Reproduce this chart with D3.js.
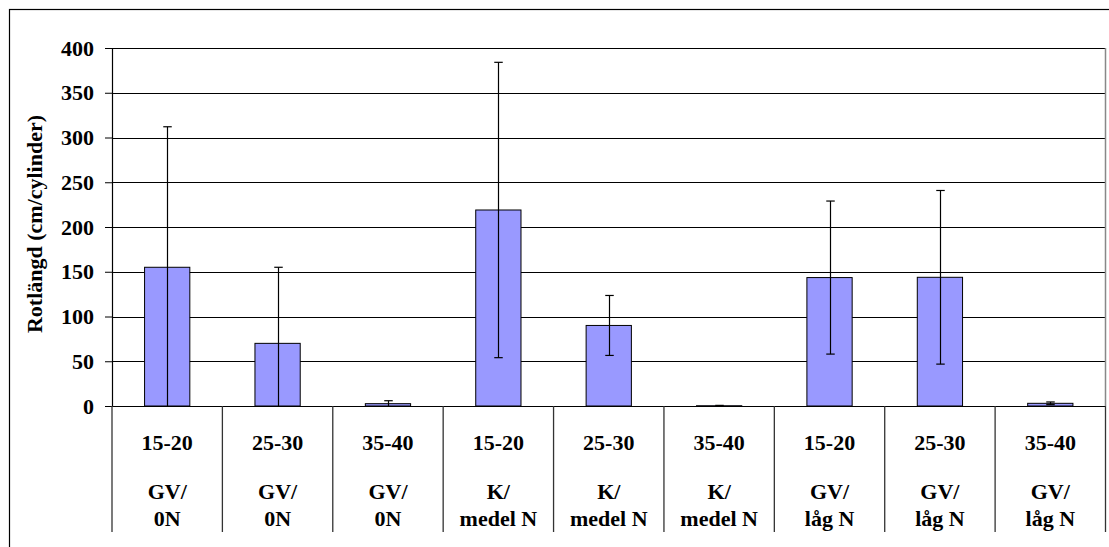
<!DOCTYPE html>
<html>
<head>
<meta charset="utf-8">
<script src="https://cdn.jsdelivr.net/npm/d3@7"></script>
<style>
  html, body { margin: 0; padding: 0; background: #fff; }
  svg { display: block; }
</style>
</head>
<body>
<svg id="chart" width="1109" height="547"></svg>
<script>
// ---- data ----
const depths = ["15-20", "25-30", "35-40", "15-20", "25-30", "35-40", "15-20", "25-30", "35-40"];
const treatLine1 = ["GV/", "GV/", "GV/", "K/", "K/", "K/", "GV/", "GV/", "GV/"];
const treatLine2 = ["0N", "0N", "0N", "medel N", "medel N", "medel N", "låg N", "låg N", "låg N"];
const means = [155, 70, 2.6, 219, 90, 0.3, 143.5, 143.8, 3];
const errors = [157, 85, 3.3, 165, 33.5, 0.4, 85.5, 97, 1.5];
const yTicks = [0, 50, 100, 150, 200, 250, 300, 350, 400];
const yTitle = "Rotlängd (cm/cylinder)";

// ---- layout ----
const svg = d3.select("#chart");
const pLeft = 112, pRight = 1105.5, pTop = 48, pBottom = 406, labelBottom = 532;
const fontSize = "22px";
const fontFam = "'Liberation Serif', 'Times New Roman', serif";
function styleText(sel) {
  return sel.style("font-family", fontFam).style("font-weight", "bold")
    .style("font-size", fontSize).style("fill", "#000");
}

const idx = d3.range(means.length);
const x = d3.scaleBand().domain(idx).range([pLeft, pRight]).padding(0);
const y = d3.scaleLinear().domain([0, 400]).range([pBottom, pTop]);
const barFrac = 0.41;

// outer border (left & top visible)
svg.append("rect").attr("x", 9.5).attr("y", 9.5).attr("width", 1200).attr("height", 600)
  .attr("fill", "none").attr("stroke", "#000").attr("stroke-width", 1.2);

// gridlines
svg.append("g").selectAll("line").data(yTicks.filter(d => d > 0)).join("line")
  .attr("x1", pLeft).attr("x2", pRight)
  .attr("y1", d => Math.round(y(d)) + 0.5).attr("y2", d => Math.round(y(d)) + 0.5)
  .attr("stroke", "#000").attr("stroke-width", 1);

// plot area right edge
svg.append("line").attr("x1", pRight).attr("x2", pRight).attr("y1", pTop).attr("y2", pBottom)
  .attr("stroke", "#888").attr("stroke-width", 1.5);

// bars
const bw = x.bandwidth() * barFrac;
svg.append("g").selectAll("rect").data(idx).join("rect")
  .attr("x", i => x(i) + (x.bandwidth() - bw) / 2)
  .attr("width", bw)
  .attr("y", i => y(means[i]))
  .attr("height", i => y(0) - y(means[i]))
  .attr("fill", "#9999FF")
  .attr("stroke", "#000").attr("stroke-width", 1);

// error bars
const capW = 8.5;
const eg = svg.append("g").attr("stroke", "#000").attr("stroke-width", 1.2);
idx.forEach(i => {
  const cx = Math.round(x(i) + x.bandwidth() / 2) + 0.5;
  const hi = means[i] + errors[i];
  const loRaw = means[i] - errors[i];
  const lo = Math.max(0, loRaw);
  eg.append("line").attr("x1", cx).attr("x2", cx).attr("y1", y(hi)).attr("y2", y(lo));
  eg.append("line").attr("x1", cx - capW / 2).attr("x2", cx + capW / 2).attr("y1", y(hi)).attr("y2", y(hi));
  if (loRaw > 0) {
    eg.append("line").attr("x1", cx - capW / 2).attr("x2", cx + capW / 2).attr("y1", y(lo)).attr("y2", y(lo));
  }
});

// y axis
const yAxis = svg.append("g").attr("transform", `translate(${pLeft},0)`)
  .call(d3.axisLeft(y).tickValues(yTicks).tickSize(7).tickPadding(11).tickSizeOuter(0));
yAxis.select(".domain").attr("stroke", "#000").attr("stroke-width", 1.2);
yAxis.selectAll(".tick line").attr("stroke", "#000").attr("stroke-width", 1);
styleText(yAxis.selectAll(".tick text"));

// x axis line
svg.append("line").attr("x1", pLeft).attr("x2", pRight).attr("y1", pBottom + 0.5).attr("y2", pBottom + 0.5)
  .attr("stroke", "#000").attr("stroke-width", 1.2);

// category separators
const seps = idx.map(i => x(i)).concat([pRight]);
svg.append("g").selectAll("line").data(seps).join("line")
  .attr("x1", d => d).attr("x2", d => d).attr("y1", pBottom).attr("y2", labelBottom)
  .attr("stroke", "#333").attr("stroke-width", 1.3);

// category labels
const lg = svg.append("g").attr("text-anchor", "middle");
idx.forEach(i => {
  const cx = x(i) + x.bandwidth() / 2;
  styleText(lg.append("text").attr("x", cx).attr("y", 450).text(depths[i]));
  styleText(lg.append("text").attr("x", cx).attr("y", 498.5).text(treatLine1[i]));
  styleText(lg.append("text").attr("x", cx).attr("y", 525.5).text(treatLine2[i]));
});

// y title
styleText(svg.append("text")
  .attr("transform", `translate(42,${(pTop + pBottom) / 2 - 3}) rotate(-90)`)
  .attr("text-anchor", "middle")
  .text(yTitle));
</script>
</body>
</html>
